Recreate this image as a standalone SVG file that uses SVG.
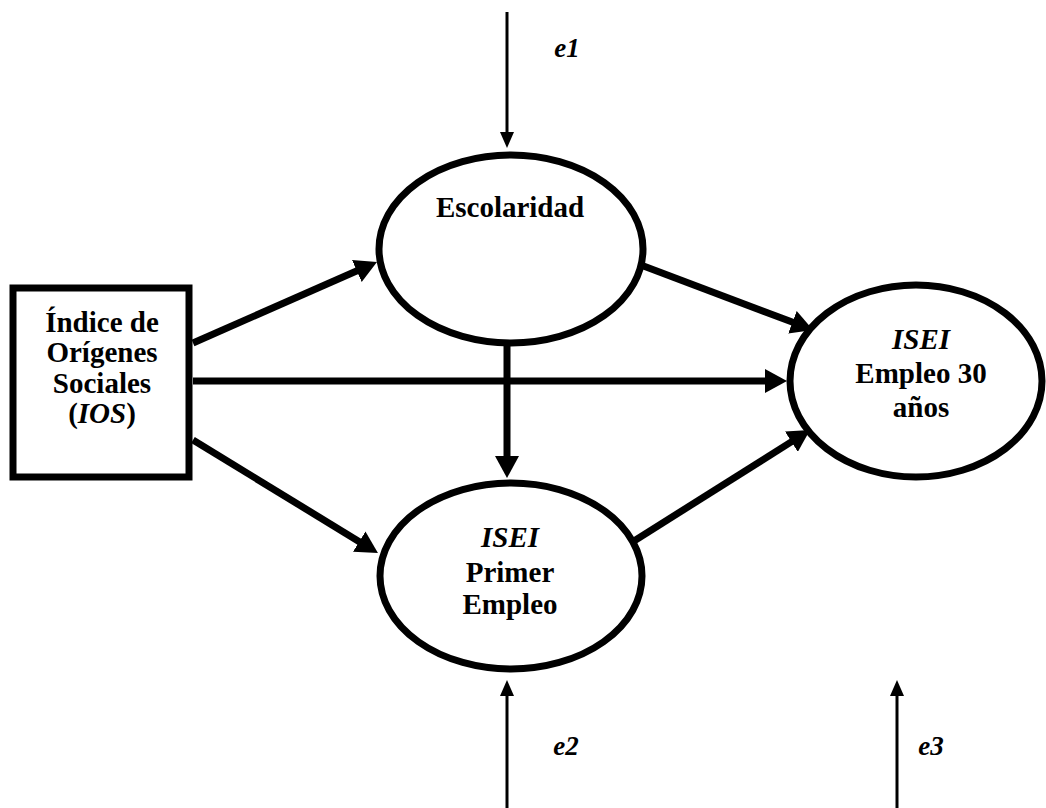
<svg xmlns="http://www.w3.org/2000/svg" width="1046" height="808" viewBox="0 0 1046 808">
<defs>
<style>
.node{fill:#fff;stroke:#000;stroke-width:7}
.t{font-family:"Liberation Serif","Times New Roman",serif;font-weight:bold;font-size:29px;text-anchor:middle;fill:#000}
.e{font-size:27px}
.i{font-style:italic}
.thick{stroke:#000;stroke-width:7;fill:none}
.thin{stroke:#000;stroke-width:3;fill:none}
</style>
<marker id="ah" markerUnits="userSpaceOnUse" viewBox="0 0 22 24" refX="4" refY="12" markerWidth="22" markerHeight="24" orient="auto">
<path d="M0,0 L22,12 L0,24 z" fill="#000"/>
</marker>
<marker id="as" markerUnits="userSpaceOnUse" viewBox="0 0 16 14" refX="2" refY="7" markerWidth="16" markerHeight="14" orient="auto">
<path d="M0,0 L16,7 L0,14 z" fill="#000"/>
</marker>
</defs>
<rect width="1046" height="808" fill="#fff"/>
<g id="connectors">
<line class="thick" x1="193" y1="343" x2="360.5" y2="269.3" marker-end="url(#ah)"/>
<line class="thick" x1="193" y1="381" x2="769" y2="381" marker-end="url(#ah)"/>
<line class="thick" x1="193" y1="440" x2="362.6" y2="543.7" marker-end="url(#ah)"/>
<line class="thick" x1="617" y1="256" x2="796.2" y2="323.6" marker-end="url(#ah)"/>
<line class="thick" x1="507" y1="345" x2="507" y2="460" marker-end="url(#ah)"/>
<line class="thick" x1="634" y1="541" x2="794.8" y2="439.6" marker-end="url(#ah)"/>
<line class="thin" x1="507" y1="12" x2="507" y2="134" marker-end="url(#as)"/>
<line class="thin" x1="507" y1="808" x2="507" y2="694" marker-end="url(#as)"/>
<line class="thin" x1="897" y1="808" x2="897" y2="694" marker-end="url(#as)"/>
</g>
<g id="ios">
<rect class="node" x="13" y="288" width="176" height="189" stroke-width="8"/>
<text class="t" x="102" y="332">Índice de</text>
<text class="t" x="102" y="362">Orígenes</text>
<text class="t" x="102" y="393">Sociales</text>
<text class="t" x="102" y="423">(<tspan class="i">IOS</tspan>)</text>
</g>
<g id="escolaridad">
<ellipse class="node" cx="511" cy="249" rx="132" ry="94"/>
<text class="t" x="510" y="217">Escolaridad</text>
</g>
<g id="empleo30">
<ellipse class="node" cx="916" cy="381" rx="126" ry="96"/>
<text class="t i" x="921" y="349">ISEI</text>
<text class="t" x="921" y="383">Empleo 30</text>
<text class="t" x="921" y="417">años</text>
</g>
<g id="primer">
<ellipse class="node" cx="511" cy="576" rx="131" ry="93"/>
<text class="t i" x="510" y="547">ISEI</text>
<text class="t" x="510" y="582">Primer</text>
<text class="t" x="510" y="614">Empleo</text>
</g>
<g id="errors">
<text class="t e i" x="567" y="57">e1</text>
<text class="t e i" x="566" y="755">e2</text>
<text class="t e i" x="931" y="755">e3</text>
</g>
</svg>
